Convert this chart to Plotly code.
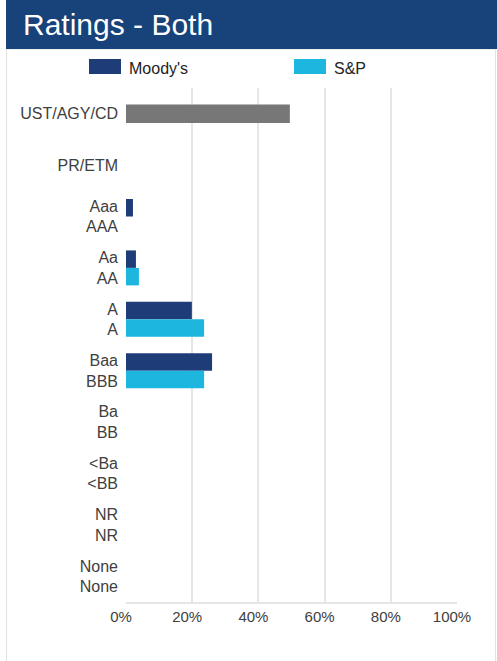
import plotly.graph_objects as go

# 数据
categories = ["UST/AGY/CD", "PR/ETM", "Aaa<br>AAA", "Aa<br>AA", "A<br>A",
              "Baa<br>BBB", "Ba<br>BB", "&lt;Ba<br>&lt;BB", "NR<br>NR", "None<br>None"]
moodys = [0, 0, 0.021, 0.030, 0.199, 0.260, 0, 0, 0, 0]
sp = [0, 0, 0, 0.039, 0.236, 0.236, 0, 0, 0, 0]
other = [0.495, 0, 0, 0, 0, 0, 0, 0, 0, 0]
x_ticks = [0, 0.2, 0.4, 0.6, 0.8, 1.0]

# 颜色
c_moodys = "#1d3c78"
c_sp = "#1cb6de"
c_other = "#777777"
c_header = "#18427a"
c_grid = "#e6e6e6"

W, H = 497, 661
FONT = "Liberation Sans, Arial, sans-serif"


def px(x):
    return x / W


def py(y):
    return 1 - y / H


fig = go.Figure()
fig.add_trace(go.Bar(y=categories, x=other, orientation="h", name="Other",
                     marker_color=c_other, width=0.36, offset=-0.18))
fig.add_trace(go.Bar(y=categories, x=moodys, orientation="h", name="Moody's",
                     marker_color=c_moodys, width=0.34, offset=-0.34))
fig.add_trace(go.Bar(y=categories, x=sp, orientation="h", name="S&P",
                     marker_color=c_sp, width=0.34, offset=0))

fig.update_layout(
    template="none",
    width=W, height=H, autosize=False,
    margin=dict(l=0, r=0, t=0, b=0, pad=0),
    paper_bgcolor="white", plot_bgcolor="white",
    barmode="overlay", showlegend=False,
    font=dict(family=FONT, color="#404040", size=16),
    xaxis=dict(domain=[px(126), px(457)], range=[0, 1], tickvals=x_ticks,
               tickformat=".0%", showgrid=True, gridcolor=c_grid, gridwidth=2,
               zeroline=False, showline=True, linecolor=c_grid, linewidth=2,
               ticks="", tickfont=dict(size=15), ticklabelshift=-5,
               automargin=False),
    yaxis=dict(domain=[py(602), py(88)], range=[9.5, -0.5], showgrid=False,
               zeroline=False, showline=False, ticks="", ticklabelstandoff=7,
               automargin=False),
    shapes=[
        # card border
        dict(type="rect", xref="paper", yref="paper", x0=px(6.5), x1=px(495.5),
             y0=-0.05, y1=py(49), line=dict(color="#e2e2e2", width=1),
             layer="below"),
        # header bar
        dict(type="rect", xref="paper", yref="paper", x0=px(6), x1=1,
             y0=py(49), y1=1, fillcolor=c_header, line=dict(width=0)),
        # legend swatches
        dict(type="rect", xref="paper", yref="paper", x0=px(89), x1=px(121),
             y0=py(74), y1=py(59), fillcolor=c_moodys, line=dict(width=0)),
        dict(type="rect", xref="paper", yref="paper", x0=px(294), x1=px(326),
             y0=py(74), y1=py(59), fillcolor=c_sp, line=dict(width=0)),
    ],
    annotations=[
        dict(text="Ratings - Both", xref="paper", yref="paper", x=px(21), y=py(24),
             xanchor="left", yanchor="middle", showarrow=False,
             font=dict(size=30, color="white", family=FONT)),
        dict(text="Moody's", xref="paper", yref="paper", x=px(127), y=py(68),
             xanchor="left", yanchor="middle", showarrow=False,
             font=dict(size=16, color="#222222", family=FONT)),
        dict(text="S&P", xref="paper", yref="paper", x=px(332), y=py(68),
             xanchor="left", yanchor="middle", showarrow=False,
             font=dict(size=16, color="#222222", family=FONT)),
    ],
)

fig.write_html("out.html", config={"displayModeBar": False},
               post_script="document.body.style.margin='0';")
